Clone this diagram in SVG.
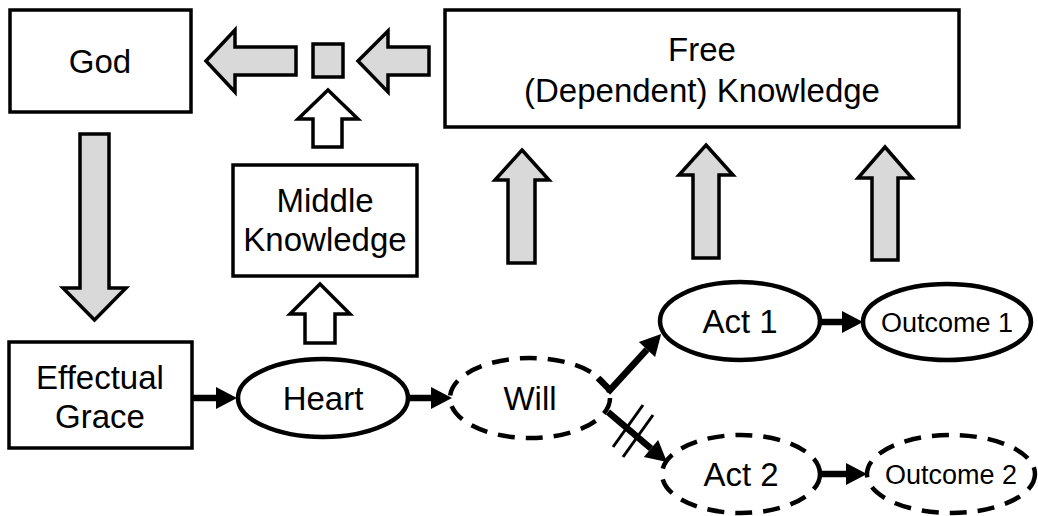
<svg xmlns="http://www.w3.org/2000/svg" width="1038" height="516" viewBox="0 0 1038 516">
<style>
.box{fill:#fff;stroke:#000;stroke-width:3.5}
.ell{fill:#fff;stroke:#000;stroke-width:4.5}
.dash{fill:#fff;stroke:#000;stroke-width:4.5;stroke-dasharray:17 11}
.gray{fill:#d9d9d9;stroke:#000;stroke-width:3.5;stroke-linejoin:miter}
.white{fill:#fff;stroke:#000;stroke-width:3.5;stroke-linejoin:miter}
.t{font-family:"Liberation Sans",Arial,sans-serif;font-size:33px;fill:#000;text-anchor:middle}
.ts{font-family:"Liberation Sans",Arial,sans-serif;font-size:27px;fill:#000;text-anchor:middle}
.c{stroke:#000;stroke-width:6.5;fill:none;marker-end:url(#ah)}
.hatch{stroke:#000;stroke-width:3;fill:none}
</style>
<defs>
<marker id="ah" markerUnits="userSpaceOnUse" markerWidth="21" markerHeight="22" refX="0" refY="11" orient="auto" overflow="visible">
<path d="M0,0 L21,11 L0,22 z" fill="#000"/>
</marker>
</defs>

<g id="big-arrows">
<polygon class="gray" points="206,61 235,30 235,47 296,47 296,75 235,75 235,92"/>
<rect class="gray" x="313" y="44" width="30" height="33"/>
<polygon class="gray" points="358,61 388,31 388,47 429,47 429,75 388,75 388,92"/>
<polygon class="gray" points="80,134 109,134 109,288 126,288 94.5,320 63,288 80,288"/>
<polygon class="white" points="328,90 358,119 342,119 342,147 313,147 313,119 298,119"/>
<polygon class="white" points="320,284 350,314 335,314 335,343 305,343 305,314 290,314"/>
<polygon class="gray" points="522,150 549,180 535,180 535,263 508,263 508,180 495,180"/>
<polygon class="gray" points="706,145 733,175 719,175 719,258 693,258 693,175 679,175"/>
<polygon class="gray" points="885,147 912,178 898,178 898,260 872,260 872,178 858,178"/>
</g>

<g id="god">
<rect class="box" x="10" y="10" width="181" height="102"/>
<text class="t" x="100" y="73">God</text>
</g>

<g id="free-knowledge">
<rect class="box" x="445" y="10" width="514" height="117"/>
<text class="t" x="702" y="61">Free</text>
<text class="t" x="702" y="102">(Dependent) Knowledge</text>
</g>

<g id="middle-knowledge">
<rect class="box" x="233" y="165" width="184" height="111"/>
<text class="t" x="325" y="212">Middle</text>
<text class="t" x="325" y="251">Knowledge</text>
</g>

<g id="effectual-grace">
<rect class="box" x="9" y="342" width="183" height="106"/>
<text class="t" x="100" y="389">Effectual</text>
<text class="t" x="100" y="428">Grace</text>
</g>

<g id="heart">
<ellipse class="ell" cx="323" cy="398" rx="85" ry="39"/>
<text class="t" x="323" y="410">Heart</text>
</g>

<g id="will">
<ellipse class="dash" cx="530" cy="398" rx="80" ry="40"/>
<text class="t" x="530" y="410">Will</text>
</g>

<g id="act1">
<ellipse class="ell" cx="740" cy="321" rx="80" ry="39"/>
<text class="t" x="740" y="333">Act 1</text>
</g>

<g id="outcome1">
<ellipse class="ell" cx="947" cy="322" rx="84" ry="38"/>
<text class="ts" x="947" y="332">Outcome 1</text>
</g>

<g id="act2">
<ellipse class="dash" cx="741" cy="474" rx="79" ry="39"/>
<text class="t" x="741" y="486">Act 2</text>
</g>

<g id="outcome2">
<ellipse class="dash" cx="951" cy="474" rx="84" ry="39"/>
<text class="ts" x="951" y="484">Outcome 2</text>
</g>

<g id="connectors">
<line class="c" x1="192" y1="398" x2="216" y2="398"/>
<line class="c" x1="408" y1="398" x2="431" y2="398"/>
<path class="c" d="M598,378 L610,390 L647,349.5"/>
<line class="c" x1="608" y1="412" x2="651" y2="448.5"/>
<line class="c" x1="820" y1="322" x2="842" y2="322"/>
<line class="c" x1="820" y1="474" x2="846" y2="474"/>
<line class="hatch" x1="613" y1="447" x2="643" y2="405"/>
<line class="hatch" x1="623" y1="457" x2="653" y2="415"/>
</g>
</svg>
